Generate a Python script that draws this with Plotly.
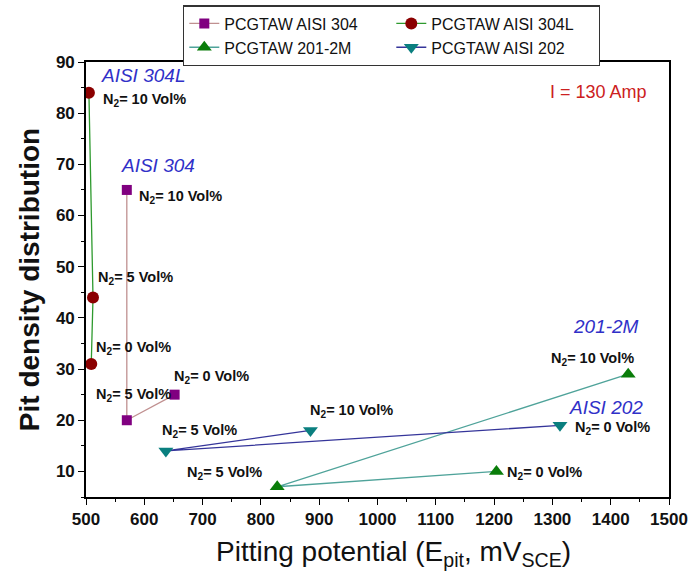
import plotly.graph_objects as go

# Pitting potential (mV_SCE) and pit density for each weld, ordered N2 = 10, 5, 0 vol%
n2_levels = [10, 5, 0]

x_304 = [570, 570, 652]
y_304 = [65, 20, 25]

x_304L = [505, 512, 509]
y_304L = [84, 44, 31]

x_201 = [1430, 828, 1204]
y_201 = [29, 7, 10]

x_202 = [885, 637, 1313]
y_202 = [18, 14, 19]

series_names = ["PCGTAW AISI 304", "PCGTAW AISI 304L", "PCGTAW 201-2M", "PCGTAW AISI 202"]
x_ticks = [500, 600, 700, 800, 900, 1000, 1100, 1200, 1300, 1400, 1500]
y_ticks = [10, 20, 30, 40, 50, 60, 70, 80, 90]

FONT = "Liberation Sans, Arial, sans-serif"

series = [
    dict(x=x_304, y=y_304, name=series_names[0], line="#c09090", marker="#800080",
         symbol="square", size=10,
         offsets=[(10, -7, "left"), (-33, 25, "left"), (-3, 18, "left")]),
    dict(x=x_304L, y=y_304L, name=series_names[1], line="#2e9a2e", marker="#8b0000",
         symbol="circle", size=12,
         offsets=[(12, -7, "left"), (3, 19, "left"), (3, 16, "left")]),
    dict(x=x_201, y=y_201, name=series_names[2], line="#4fa39a", marker="#0a7d0a",
         symbol="triangle-up", size=13,
         offsets=[(8, 15, "right"), (-13, 14, "right"), (9, -2, "left")]),
    dict(x=x_202, y=y_202, name=series_names[3], line="#35359a", marker="#0a7f7f",
         symbol="triangle-down", size=13,
         offsets=[(-2, 19, "left"), (-6, 20, "left"), (13, -3, "left")]),
]

fig = go.Figure()
annotations = []

for s in series:
    fig.add_trace(go.Scatter(
        x=s["x"], y=s["y"], name=s["name"], mode="lines+markers",
        line=dict(color=s["line"], width=1.3),
        marker=dict(color=s["marker"], symbol=s["symbol"], size=s["size"],
                    line=dict(width=0)),
    ))
    for xv, yv, n2, (dx, dy, anchor) in zip(s["x"], s["y"], n2_levels, s["offsets"]):
        annotations.append(dict(
            x=xv, y=yv, xref="x", yref="y", showarrow=False,
            text=f"<b>N<sub>2</sub>= {n2} Vol%</b>",
            xanchor=anchor, yanchor="middle", xshift=dx, yshift=dy,
            font=dict(family=FONT, size=14.5, color="#111111"),
        ))

# Alloy names and welding current
blue = "#3030c8"
for txt, xv, yv, anchor in [("AISI 304L", 522, 87.3, "left"),
                            ("AISI 304", 557, 69.7, "left"),
                            ("201-2M", 1452, 38.4, "right"),
                            ("AISI 202", 1459, 22.4, "right")]:
    annotations.append(dict(
        x=xv, y=yv, xref="x", yref="y", showarrow=False, text=f"<i>{txt}</i>",
        xanchor=anchor, yanchor="middle",
        font=dict(family=FONT, size=19, color=blue),
    ))

annotations.append(dict(
    x=1292, y=84.1, xref="x", yref="y", showarrow=False, text="I = 130 Amp",
    xanchor="left", yanchor="middle",
    font=dict(family=FONT, size=18, color="#cc2020"),
))

# x-axis title
annotations.append(dict(
    x=0.527, y=553, xref="paper", yref="paper", showarrow=False,
    text="Pitting potential (E<sub>pit</sub>, mV<sub>SCE</sub>)",
    xanchor="center", yanchor="middle",
    font=dict(family=FONT, size=28, color="#111111"),
))
annotations[-1].update(y=(584 - 553 - 87) / (584 - 62 - 87))

axis_common = dict(
    showline=True, linecolor="black", linewidth=1.6, mirror=True,
    ticks="outside", ticklen=6, tickwidth=1.4, tickcolor="black",
    showgrid=False, zeroline=False, automargin=False,
    tickfont=dict(family=FONT, size=17, color="#111111", weight="bold"),
)

fig.update_layout(
    width=694, height=584,
    margin=dict(l=86, r=25, t=62, b=87, autoexpand=False),
    paper_bgcolor="white", plot_bgcolor="white",
    font=dict(family=FONT, color="#111111"),
    showlegend=True,
    legend=dict(
        orientation="h", x=0.2637, xanchor="left", y=0.991, yanchor="top",
        xref="container", yref="container",
        bordercolor="#333333", borderwidth=1.3, bgcolor="white",
        font=dict(family=FONT, size=16, color="#111111"),
        entrywidth=162, tracegroupgap=0, itemwidth=30,
    ),
    xaxis=dict(
        range=[500, 1500], tickmode="array", tickvals=x_ticks,
        ticktext=[str(v) for v in x_ticks],
        minor=dict(ticks="outside", ticklen=3.5, tickwidth=1.2, tickcolor="black", dtick=50),
        **axis_common,
    ),
    yaxis=dict(
        range=[5, 90], tickmode="array", tickvals=y_ticks,
        ticktext=[str(v) for v in y_ticks],
        minor=dict(ticks="outside", ticklen=3.5, tickwidth=1.2, tickcolor="black", dtick=5, tick0=0),
        title=dict(text="<b>Pit density distribution</b>",
                   font=dict(family=FONT, size=28, color="#111111"), standoff=8),
        **axis_common,
    ),
    annotations=annotations,
)

fig.write_html("out.html")
